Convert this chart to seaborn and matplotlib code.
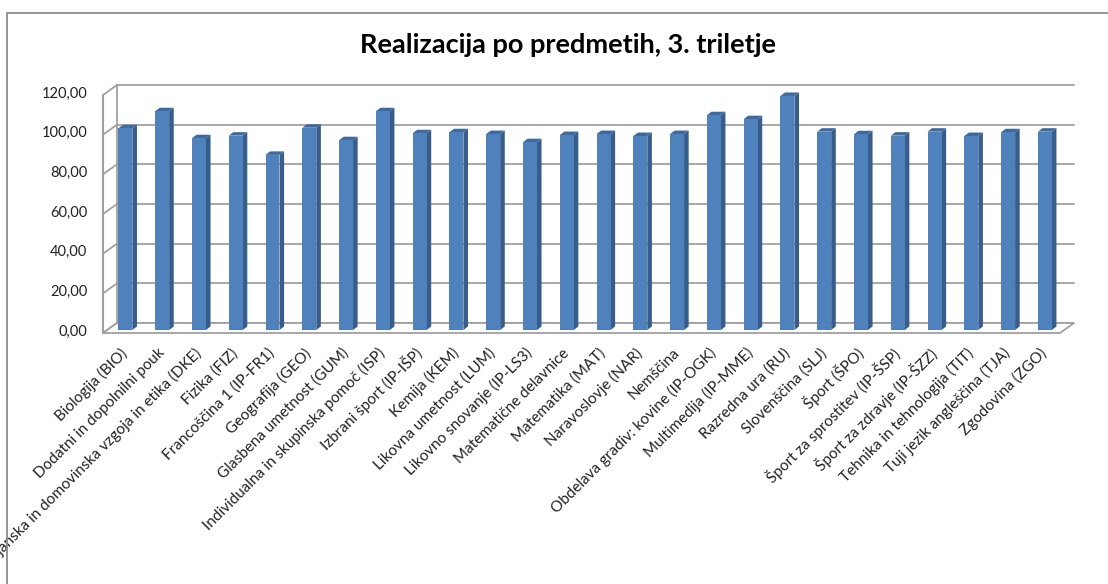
import matplotlib
matplotlib.use("Agg")
import matplotlib.pyplot as plt
from matplotlib.lines import Line2D
from matplotlib.patches import Polygon
import seaborn as sns
import pandas as pd

categories = [
    "Biologija (BIO)", "Dodatni in dopolnilni pouk",
    "Državljanska in domovinska vzgoja in etika (DKE)", "Fizika (FIZ)",
    "Francoščina 1 (IP-FR1)", "Geografija (GEO)", "Glasbena umetnost (GUM)",
    "Individualna in skupinska pomoč (ISP)", "Izbrani šport (IP-IŠP)",
    "Kemija (KEM)", "Likovna umetnost (LUM)", "Likovno snovanje (IP-LS3)",
    "Matematične delavnice", "Matematika (MAT)", "Naravoslovje (NAR)",
    "Nemščina", "Obdelava gradiv: kovine (IP-OGK)", "Multimedija (IP-MME)",
    "Razredna ura (RU)", "Slovenščina (SLJ)", "Šport (ŠPO)",
    "Šport za sprostitev (IP-ŠSP)", "Šport za zdravje (IP-ŠZZ)",
    "Tehnika in tehnologija (TIT)", "Tuji jezik angleščina (TJA)",
    "Zgodovina (ZGO)",
]
values = [101.7, 110.3, 96.7, 98.0, 88.3, 102.0, 95.7, 110.3, 99.2, 99.7,
          98.8, 94.7, 98.3, 98.8, 97.8, 98.8, 108.3, 106.3, 118.0, 100.0,
          98.7, 98.0, 100.0, 97.8, 99.7, 100.0]
yticks = [0, 20, 40, 60, 80, 100, 120]
ytick_labels = ["0,00", "20,00", "40,00", "60,00", "80,00", "100,00", "120,00"]
title = "Realizacija po predmetih, 3. triletje"

sns.set_theme(style="white")
plt.rcParams["font.family"] = ["Lato", "DejaVu Sans"]

W, H = 1108, 584
fig = plt.figure(figsize=(W / 100, H / 100), dpi=100)
fig.patch.set_facecolor("white")

# axes in the plane of the bar fronts
ax_l, ax_r, ax_b, ax_t = 107, 1064, 330, 92
ax = fig.add_axes([ax_l / W, 1 - ax_b / H, (ax_r - ax_l) / W, (ax_b - ax_t) / H])
ax.set_facecolor("none")

df = pd.DataFrame({"cat": categories, "val": values})
sns.barplot(data=df, x="cat", y="val", color="#4F81BD", saturation=1,
            width=0.38, ax=ax, zorder=5, edgecolor="none")

xl = (-0.5, 25.52)
ax.set_xlim(*xl)
ax.set_ylim(0, 120)
pxx = (ax_r - ax_l) / (xl[1] - xl[0])
pxy = (ax_b - ax_t) / 120.0

def dx(p):
    return p / pxx

def dy(p):
    return p / pxy

grid_c = "#A0A0A0"
bx, by = 10, 7
fx, fy = -4, -3

for v in yticks:
    ax.plot([xl[0] + dx(bx), xl[1] + dx(bx)], [v + dy(by), v + dy(by)],
            color=grid_c, lw=1.3, zorder=1, clip_on=False)
    ax.plot([xl[0] + dx(fx), xl[0] + dx(bx)], [v + dy(fy), v + dy(by)],
            color=grid_c, lw=1.3, zorder=1, clip_on=False)
ax.plot([xl[0] + dx(bx)] * 2, [dy(by), 120 + dy(by)], color=grid_c, lw=1.3,
        zorder=1, clip_on=False)
ax.plot([xl[0] + dx(fx)] * 2, [dy(fy), 120 + dy(fy)], color=grid_c, lw=1.5,
        zorder=2, clip_on=False)
floor = Polygon([(xl[0] + dx(fx), dy(fy)), (xl[1] + dx(fx), dy(fy)),
                 (xl[1] + dx(bx), dy(by)), (xl[0] + dx(bx), dy(by))],
                closed=True, facecolor="white", edgecolor=grid_c, lw=1.3,
                zorder=2, clip_on=False)
ax.add_patch(floor)

ddx, ddy = dx(4.6), dy(3.5)
for p in list(ax.patches):
    if p is floor:
        continue
    x0 = p.get_x()
    w = p.get_width()
    h = p.get_height()
    x1 = x0 + w
    side = Polygon([(x1, 0), (x1 + ddx, ddy), (x1 + ddx, h + ddy), (x1, h)],
                   closed=True, facecolor="#385D8A", edgecolor="none",
                   zorder=4, clip_on=False)
    top = Polygon([(x0, h), (x1, h), (x1 + ddx, h + ddy), (x0 + ddx, h + ddy)],
                  closed=True, facecolor="#3E6A9E", edgecolor="none",
                  zorder=4, clip_on=False)
    ax.add_patch(side)
    ax.add_patch(top)

for s in ax.spines.values():
    s.set_visible(False)
ax.grid(False)
ax.set_xlabel("")
ax.set_ylabel("")
ax.set_yticks(yticks)
ax.set_yticklabels(ytick_labels, fontsize=10.5, color="#222222")
ax.tick_params(axis="y", length=0, pad=14)
ax.tick_params(axis="x", length=0, pad=15)
ax.set_xticks(range(len(categories)))
ax.set_xticklabels(categories, rotation=45, ha="right", rotation_mode="anchor",
                   fontsize=11, color="#222222", va="center")

fig.text(568 / W, 1 - 45 / H, title, ha="center", va="center",
         fontsize=19.5, fontweight="bold", color="black")

fig.add_artist(Line2D([7 / W, 7 / W], [0, 1 - 13 / H], color="#8C8C8C",
                      lw=1.3, transform=fig.transFigure))
fig.add_artist(Line2D([7 / W, 1], [1 - 13 / H, 1 - 13 / H], color="#8C8C8C",
                      lw=1.3, transform=fig.transFigure))

fig.savefig("out.png", dpi=100)
